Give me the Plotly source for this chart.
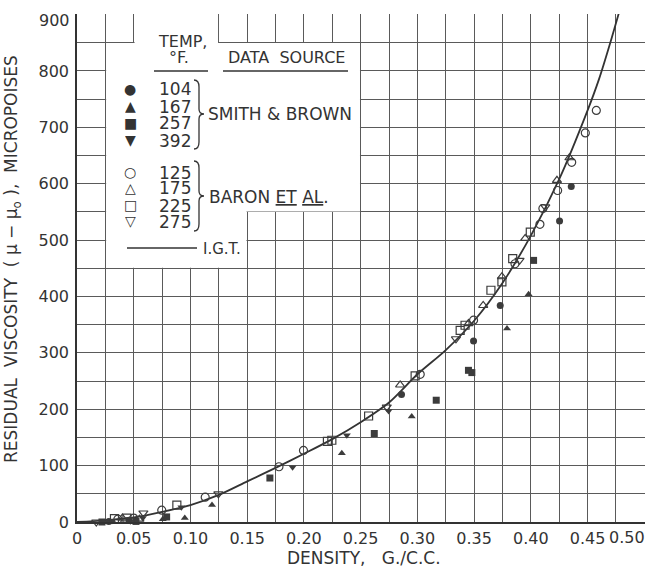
import plotly.graph_objects as go

# ---------------- data ----------------
curve_x = [0, 0.025, 0.05, 0.075, 0.10, 0.125, 0.15, 0.175, 0.20, 0.225, 0.25,
           0.275, 0.30, 0.325, 0.35, 0.375, 0.40, 0.425, 0.45, 0.46, 0.47, 0.48]
curve_y = [0, 3, 8, 18, 30, 48, 72, 96, 121, 147, 177,
           212, 262, 305, 357, 424, 508, 608, 730, 785, 850, 920]

sb104_x = [0.028, 0.046, 0.286, 0.3495, 0.373, 0.4253, 0.4356]
sb104_y = [1, 3, 226, 321, 384, 534, 595]
sb167_x = [0.041, 0.0756, 0.095, 0.119, 0.2334, 0.295, 0.379, 0.398]
sb167_y = [-1, 5, 7, 30, 122, 187, 343, 404]
sb257_x = [0.022, 0.052, 0.079, 0.170, 0.262, 0.3166, 0.345, 0.348, 0.4024]
sb257_y = [0, 1, 9, 78, 157, 216, 269, 265, 464]
sb392_x = [0.031, 0.058, 0.092, 0.190, 0.2378, 0.2746]
sb392_y = [2, 7, 26, 97, 154, 197]

b125_x = [0.0056, 0.036, 0.050, 0.0747, 0.113, 0.178, 0.1996, 0.3025, 0.3495,
          0.386, 0.408, 0.4106, 0.4236, 0.436, 0.448, 0.4577]
b125_y = [-2, 5, 7, 21, 44, 98, 127, 262, 358, 458, 528, 556, 588, 638, 690, 730]
b175_x = [0.040, 0.055, 0.2848, 0.345, 0.358, 0.3745, 0.395, 0.423, 0.434]
b175_y = [7, 5, 243, 352, 384, 435, 503, 606, 646]
b225_x = [0.010, 0.033, 0.044, 0.088, 0.2207, 0.2246, 0.257, 0.298, 0.3377,
          0.342, 0.3648, 0.3745, 0.384, 0.3995]
b225_y = [-2, 6, 7, 30, 143, 145, 188, 259, 340, 349, 411, 426, 467, 514]
b275_x = [0.017, 0.047, 0.0585, 0.1246, 0.273, 0.334, 0.390, 0.4127]
b275_y = [0, 4, 16, 50, 204, 325, 464, 559]

x_ticks = [0, 0.05, 0.10, 0.15, 0.20, 0.25, 0.30, 0.35, 0.40, 0.45]
x_tick_text = ["0", "0.05", "0.10", "0.15", "0.20", "0.25", "0.30", "0.35", "0.40", "0.45"]
y_ticks = [0, 100, 200, 300, 400, 500, 600, 700, 800]

smith_temps = ["104", "167", "257", "392"]
baron_temps = ["125", "175", "225", "275"]
smith_syms = ["●", "▲", "■", "▼"]
baron_syms = ["○", "△", "□", "▽"]

# ---------------- layout geometry ----------------
W, H = 649, 568
L, R, T, B = 77, 4, 14, 46
PW, PH = W - L - R, H - T - B
INK = "#333333"
GRID = "#5a5a5a"
FONT = "DejaVu Sans"


def PX(px):
    return (px - L) / PW


def PY(py):
    return (H - B - py) / PH


fig = go.Figure()

fig.add_trace(go.Scatter(x=curve_x, y=curve_y, mode="lines",
                         line=dict(color=INK, width=1.8, shape="spline", smoothing=0.8),
                         hoverinfo="skip"))

filled = [(sb104_x, sb104_y, "circle"), (sb167_x, sb167_y, "triangle-up"),
          (sb257_x, sb257_y, "square"), (sb392_x, sb392_y, "triangle-down")]
opened = [(b125_x, b125_y, "circle-open"), (b175_x, b175_y, "triangle-up-open"),
          (b225_x, b225_y, "square-open"), (b275_x, b275_y, "triangle-down-open")]
for xs, ys, sym in filled:
    fig.add_trace(go.Scatter(x=xs, y=ys, mode="markers", cliponaxis=False,
                             marker=dict(symbol=sym, size=7, color="#3c3c3c",
                                         line=dict(width=0))))
for xs, ys, sym in opened:
    fig.add_trace(go.Scatter(x=xs, y=ys, mode="markers", cliponaxis=False,
                             marker=dict(symbol=sym, size=8, color="#3c3c3c",
                                         line=dict(width=1.2, color="#3c3c3c"))))

# white legend box (covers grid)
shapes = [
    dict(type="rect", xref="x", yref="y", x0=0.0257, x1=0.2494, y0=550.6, y1=849.4,
         fillcolor="white", line=dict(width=0), layer="between"),
    dict(type="rect", xref="x", yref="y", x0=0.0257, x1=0.1494, y0=450.8, y1=551.5,
         fillcolor="white", line=dict(width=0), layer="between"),
    dict(type="rect", xref="x", yref="y", x0=0.0507, x1=0.1243, y0=849, y1=910,
         fillcolor="white", line=dict(width=0), layer="between"),
]
# underlines
for x0, x1 in [(154, 208), (223, 348)]:
    shapes.append(dict(type="line", xref="paper", yref="paper",
                       x0=PX(x0), x1=PX(x1), y0=PY(71), y1=PY(71),
                       line=dict(color=INK, width=1.3)))
# IGT sample line
shapes.append(dict(type="line", xref="paper", yref="paper",
                   x0=PX(127), x1=PX(197), y0=PY(248), y1=PY(248),
                   line=dict(color=INK, width=1.6)))


def brace(xl, xm, xt, ytop, ymid, ybot):
    p = [(xl, ytop), (xm, ytop), (xm, ytop + 7), (xm, ymid - 5), (xm, ymid), (xt, ymid),
         (xm, ymid), (xm, ymid + 5), (xm, ybot - 7), (xm, ybot), (xl, ybot)]
    q = [(PX(a), PY(b)) for a, b in p]
    return ("M {0} {1} Q {2} {3} {4} {5} L {6} {7} Q {8} {9} {10} {11} "
            "Q {12} {13} {14} {15} L {16} {17} Q {18} {19} {20} {21}").format(
        q[0][0], q[0][1], q[1][0], q[1][1], q[2][0], q[2][1], q[3][0], q[3][1],
        q[4][0], q[4][1], q[5][0], q[5][1], q[6][0], q[6][1], q[7][0], q[7][1],
        q[8][0], q[8][1], q[9][0], q[9][1], q[10][0], q[10][1])


for args in [(194, 199, 204, 80, 114, 149), (194, 199, 204, 161, 196, 231)]:
    shapes.append(dict(type="path", xref="paper", yref="paper", path=brace(*args),
                       line=dict(color=INK, width=1.3)))

ann = []


def txt(text, px, py, size=15, xanchor="center", yanchor="middle", **kw):
    ann.append(dict(text=text, x=PX(px), y=PY(py), xref="paper", yref="paper",
                    showarrow=False, xanchor=xanchor, yanchor=yanchor,
                    font=dict(family=FONT, size=size, color=INK), **kw))


txt("TEMP,", 182, 41, 16, height=15)
txt("°F.", 179, 58, 16, height=15)
txt("DATA  SOURCE", 286, 58, 16, height=15)
rows1 = [89, 106, 123, 140]
rows2 = [172, 188, 205, 221]
for s, t, r in zip(smith_syms, smith_temps, rows1):
    txt(s, 130, r, 14, height=14)
    txt(t, 193, r, 17, xanchor="right", height=15)
for s, t, r in zip(baron_syms, baron_temps, rows2):
    txt(s, 130, r, 14, height=14)
    txt(t, 193, r, 17, xanchor="right", height=15)
txt("SMITH & BROWN", 206, 114, 17, xanchor="left")
txt("BARON <u>ET</u> <u>AL</u>.", 207, 197, 17, xanchor="left")
txt("I.G.T.", 201, 249, 15, xanchor="left")

# edge tick labels shifted inward as in the original
txt("0.50", 647, 537, 16, xanchor="right")
txt("900", 72, 21, 16, xanchor="right")

# axis titles
txt("DENSITY,   G./C.C.", 364, 558, 17)
txt("RESIDUAL  VISCOSITY  ( μ − μ<sub>o</sub> ),  MICROPOISES", 12, 259, 17,
    textangle=-90)

fig.update_layout(
    width=W, height=H, margin=dict(l=L, r=R, t=T, b=B),
    paper_bgcolor="white", plot_bgcolor="white", showlegend=False,
    shapes=shapes, annotations=ann,
    font=dict(family=FONT, size=16, color=INK),
)
fig.update_xaxes(range=[0, 0.5006], tickvals=x_ticks, ticktext=x_tick_text,
                 showgrid=True, gridcolor=GRID, gridwidth=1.2,
                 minor=dict(dtick=0.025, tick0=0, showgrid=True, gridcolor=GRID, gridwidth=1.2),
                 showline=True, linecolor=INK, linewidth=1.6, zeroline=False,
                 ticks="", ticklabelstandoff=1,
                 tickfont=dict(family=FONT, size=16, color=INK))
fig.update_yaxes(range=[0, 901], tickvals=y_ticks,
                 showgrid=True, gridcolor=GRID, gridwidth=1.2,
                 minor=dict(dtick=50, tick0=0, showgrid=True, gridcolor=GRID, gridwidth=1.2),
                 showline=True, linecolor=INK, linewidth=1.6, zeroline=False,
                 ticks="", ticklabelstandoff=3,
                 tickfont=dict(family=FONT, size=16, color=INK))

fig.write_html("out.html", config={"displayModeBar": False},
               post_script="document.body.style.margin='0px';")
